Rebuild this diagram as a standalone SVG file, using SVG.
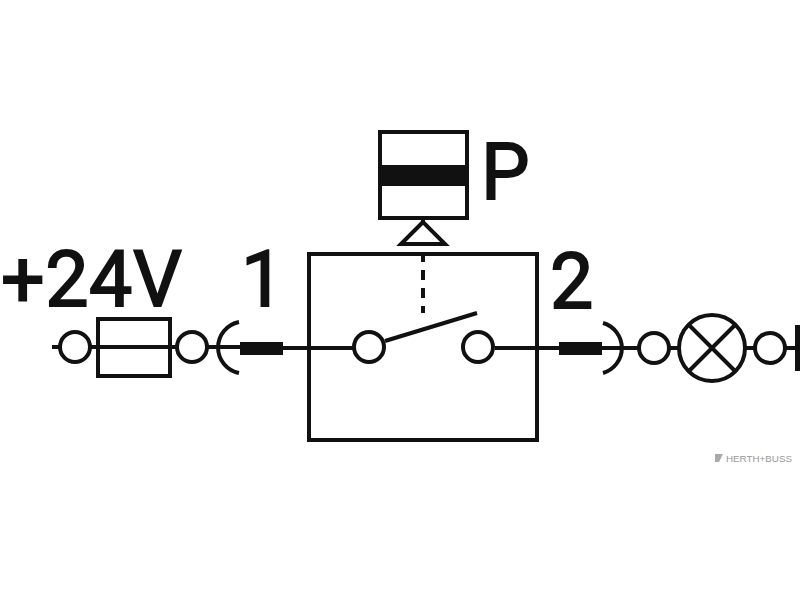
<svg xmlns="http://www.w3.org/2000/svg" width="800" height="600" viewBox="0 0 800 600">
<style>
.l{fill:none;stroke:#111;stroke-width:4}
.c{fill:#fff;stroke:#111;stroke-width:4}
.t{font-family:Roboto,"Liberation Sans",Arial,sans-serif;font-size:77px;font-weight:400;fill:#111;stroke:#111;stroke-width:1.8}
.b{fill:#111;stroke:none}
</style>
<rect width="800" height="600" fill="#fff"/>
<g id="connectors">
<path class="l" d="M52 347H98M170 347H240M283 348H355M385 341L477 313M495 348H560M600 348H640M668 348H680M746 348H757M784 348H797"/>
<path class="l" d="M423 252V313" stroke-dasharray="10 8"/>
<path class="l" d="M423 220V224"/>
</g>
<g id="label-24v"><text class="t" x="1" y="306" textLength="181" lengthAdjust="spacing">+24V</text></g>
<g id="label-1"><text class="t" x="241" y="306">1</text></g>
<g id="label-2"><text class="t" x="550" y="308">2</text></g>
<g id="label-p"><text class="t" x="481" y="199">P</text></g>
<g id="term-a"><circle class="c" cx="75" cy="347" r="15"/></g>
<g id="fuse"><rect class="l" x="98" y="319" width="72" height="57"/><path class="l" d="M98 347H170"/></g>
<g id="term-b"><circle class="c" cx="192" cy="347" r="15"/></g>
<g id="socket-1"><path class="l" d="M239 322A26 26 0 0 0 239 373"/><rect class="b" x="240" y="342" width="43" height="13"/></g>
<g id="switch-box"><rect class="l" x="309" y="254" width="228" height="186"/></g>
<g id="contact-a"><circle class="c" cx="369" cy="347" r="15"/></g>
<g id="contact-b"><circle class="c" cx="478" cy="347" r="15"/></g>
<g id="actuator">
<rect class="l" x="380" y="132" width="87" height="86"/>
<rect class="b" x="380" y="165" width="87" height="21"/>
<path class="l" d="M423 222L401 244H445Z"/>
</g>
<g id="socket-2"><path class="l" d="M603 323A26 26 0 0 1 603 373"/><rect class="b" x="559" y="342" width="43" height="13"/></g>
<g id="term-c"><circle class="c" cx="654" cy="348" r="15"/></g>
<g id="lamp"><circle class="c" cx="712" cy="348" r="33"/><path class="l" d="M689 325L735 371M735 325L689 371"/></g>
<g id="term-d"><circle class="c" cx="770" cy="348" r="15"/></g>
<g id="ground"><rect class="b" x="795" y="325" width="5" height="46"/></g>
<g id="watermark"><path d="M715 454H723L719 462H715Z" fill="#aaa"/><text x="726" y="462" font-family="'Liberation Sans',Arial,sans-serif" font-size="9.5" fill="#999" textLength="66" lengthAdjust="spacingAndGlyphs">HERTH+BUSS</text></g>
</svg>
